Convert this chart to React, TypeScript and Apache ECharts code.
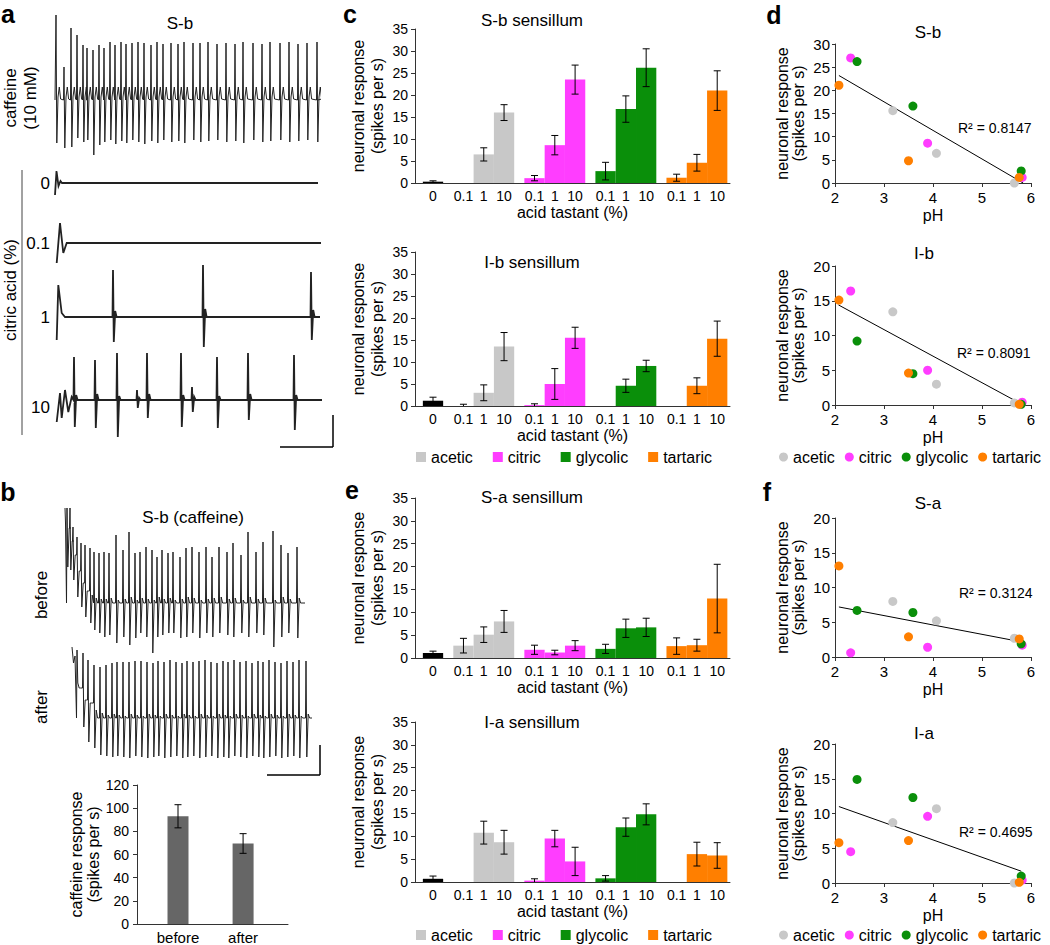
import React, { useEffect, useRef } from 'react';
import * as echarts from 'echarts';

const FONT = '"Liberation Sans", Arial, Helvetica, sans-serif';

// ---------- categories ----------
const acids = ['acetic', 'citric', 'glycolic', 'tartaric'];
const acidColors = ['#c8c8c8', '#ff3dff', '#0a8f0a', '#ff7f00'];
const zeroColor = '#000000';
// bar slot positions on the x scale (0 = water, then 0.1 / 1 / 10 % per acid)
const zeroPos = 0;
const acidPos = [[1.5, 2.5, 3.5], [5, 6, 7], [8.5, 9.5, 10.5], [12, 13, 14]];
const tickPositions = [0, 1.5, 2.5, 3.5, 5, 6, 7, 8.5, 9.5, 10.5, 12, 13, 14];
const tickLabels = ['0', '0.1', '1', '10', '0.1', '1', '10', '0.1', '1', '10', '0.1', '1', '10'];

// ---------- panel c / e bar values (mean, sem) ----------
const sbZero = [0.3, 0.2];
const sbMeans = [[0, 6.5, 16], [1.1, 8.6, 23.5], [2.7, 16.8, 26.2], [1.2, 4.6, 21]];
const sbErrs = [[0, 1.5, 1.8], [0.6, 2.2, 3.3], [2, 3, 4.3], [0.8, 1.9, 4.5]];

const ibZero = [1.2, 0.8];
const ibMeans = [[0, 3, 13.5], [0.2, 5, 15.5], [0, 4.6, 9.1], [0, 4.6, 15.3]];
const ibErrs = [[0.4, 1.8, 3.2], [0.3, 3.5, 2.4], [0, 1.5, 1.3], [0, 1.8, 4]];

const saZero = [1.1, 0.4];
const saMeans = [[2.7, 5.1, 8], [1.8, 1.2, 2.7], [2, 6.5, 6.7], [2.6, 2.8, 13]];
const saErrs = [[1.6, 1.7, 2.4], [1, 0.5, 1.1], [1, 2, 2], [1.8, 1.3, 7.5]];

const iaZero = [0.7, 0.6];
const iaMeans = [[0, 10.8, 8.7], [0.3, 9.5, 4.5], [0.8, 12, 14.8], [0, 6.1, 5.8]];
const iaErrs = [[0, 2.5, 2.6], [0.4, 1.8, 3.1], [0.6, 2, 2.3], [0, 2.6, 2.8]];

// ---------- panel b bar values ----------
const caffeineCats = ['before', 'after'];
const caffeineMeans = [93, 69.5];
const caffeineErrs = [10, 8.5];

// ---------- panel d / f scatter values (0.1 %, 1 %, 10 %) ----------
const phValues = [[5.66, 4.07, 3.18], [5.82, 3.89, 2.32], [5.8, 3.59, 2.45], [5.76, 3.5, 2.08]];
const sbResp = [[0, 6.4, 15.6], [1.2, 8.6, 27], [2.6, 16.6, 26.2], [1.2, 4.8, 21.1]];
const ibResp = [[0.3, 3.0, 13.4], [0.4, 5.0, 16.4], [0.1, 4.5, 9.2], [0.1, 4.6, 15.1]];
const saResp = [[2.7, 5.2, 8.0], [1.7, 1.4, 0.6], [1.9, 6.4, 6.7], [2.6, 2.9, 13.1]];
const iaResp = [[0, 10.7, 8.7], [0.4, 9.6, 4.5], [1.0, 12.3, 14.9], [0.1, 6.1, 5.8]];
const sbTrend = [[2.08, 23.2], [5.84, 0]];
const ibTrend = [[2.07, 14.4], [5.84, 0]];
const saTrend = [[2.08, 7.2], [5.86, 2.1]];
const iaTrend = [[2.08, 11.0], [5.8, 1.7]];
const rSquared = ['R² = 0.8147', 'R² = 0.8091', 'R² = 0.3124', 'R² = 0.4695'];

// ---------- recording traces (positions in px along the trace, amplitudes in px) ----------
const caffeinePos = [1, 9, 16, 22, 28, 32, 38, 44, 49, 55, 60, 66, 71, 77, 83, 89, 96, 102, 108, 116, 123, 129, 138, 145, 153, 162, 171, 180, 188, 198, 207, 215, 225, 234, 243, 252, 262];
const caffeineUp = [85, 33, 72, 65, 55, 52, 50, 55, 52, 58, 55, 58, 56, 57, 58, 57, 55, 58, 56, 57, 56, 58, 57, 57, 58, 56, 57, 56, 58, 57, 56, 58, 57, 58, 56, 57, 58];
const caffeineDown = [-43, -48, -47, -38, -42, -40, -55, -45, -42, -40, -44, -41, -43, -40, -42, -44, -41, -43, -40, -42, -41, -43, -40, -42, -41, -40, -42, -41, -43, -40, -42, -41, -40, -42, -41, -40, -42];

const zeroStart = [[0, -12], [1.5, 12], [3.5, -3], [5.5, 2], [7, 0]];
const pointOneStart = [[1.7, -20], [5, 20], [8.3, -10], [11.7, 0]];
const oneStart = [[1.7, -23], [3.3, 32], [6.7, 4], [10, 0]];
const onePos = [58, 148, 256];
const oneUp = [47, 52, 45];
const oneDown = [-25, -30, -23];
const oneBase = [6, 8, 7];
const tenStart = [[1.7, -22], [5, 7], [6.7, -18], [10, 10], [13.3, -12], [16.7, 3]];
const tenPos = [19, 40, 62, 82, 92, 126, 137, 162, 193, 239];
const tenUp = [43, 40, 47, 10, 47, 47, 13, 43, 47, 45];
const tenDown = [-27, -28, -37, -8, -18, -27, -12, -28, -20, -30];
const tenBase = [5, 6, 4, 2, 6, 5, 3, 4, 6, 5];

const beforeStart = [[0, 95], [0.5, 80]];
const beforePos = [2, 5, 8, 12, 16, 20, 25, 29, 34, 39, 44, 51, 58, 64, 70, 75, 81, 87, 92, 97, 103, 108, 115, 121, 127, 134, 141, 147, 154, 162, 168, 176, 183, 191, 198, 208, 216, 223, 232];
const beforeUp = [95, 95, 76, 66, 60, 58, 55, 51, 50, 51, 50, 68, 53, 71, 50, 51, 56, 53, 46, 53, 50, 51, 46, 55, 56, 51, 56, 46, 56, 51, 60, 48, 71, 51, 61, 72, 58, 50, 56];
const beforeDown = [36, 33, 23, 6, -4, -14, -20, -27, -30, -34, -32, -40, -34, -42, -35, -30, -34, -50, -34, -32, -30, -30, -35, -34, -30, -35, -30, -34, -30, -32, -34, -30, -34, -30, -32, -44, -34, -30, -35];
const beforeBase = [75, 62, 48, 32, 20, 12, 8, 5, 4, 4, 5, 3, 4, 6, 3, 5, 4, 3, 6, 4, 5, 3, 4, 6, 5, 3, 4, 5, 6, 4, 5, 3, 6, 4, 5, 3, 6, 4, 5];

const afterStart = [[0, 71], [1.5, 55], [3, 62]];
const afterPos = [5, 11, 16, 22, 28, 34, 40, 45, 51, 57, 63, 69, 75, 81, 86, 92, 98, 104, 110, 115, 121, 127, 133, 139, 145, 151, 156, 162, 168, 174, 180, 186, 191, 197, 203, 209, 215, 221, 227, 234];
const afterUp = [68, 65, 58, 53, 51, 53, 55, 56, 56, 56, 57, 57, 56, 55, 57, 56, 58, 56, 55, 57, 56, 57, 58, 56, 55, 57, 56, 58, 56, 57, 55, 57, 56, 58, 56, 55, 57, 56, 58, 57];
const afterDown = [35, -9, -24, -30, -37, -38, -39, -38, -39, -40, -38, -39, -40, -39, -38, -40, -39, -38, -40, -39, -38, -40, -39, -38, -40, -39, -40, -38, -39, -40, -38, -39, -40, -39, -38, -40, -39, -38, -40, -39];
const afterBase = [30, 18, 15, 8, 5, 3, 4, 3, 2, 4, 3, 2, 4, 3, 2, 4, 3, 2, 4, 3, 2, 4, 3, 2, 4, 3, 2, 4, 3, 2, 4, 3, 2, 4, 3, 2, 4, 3, 2, 4];

// ---------- helpers ----------
function spikeTrain(start: number[][], pos: number[], up: number[], down: number[], base: number[], end: number) {
  const pts: number[][] = start.map((p) => [p[0], p[1]]);
  let level = 0;
  pos.forEach((t, i) => {
    const next = base[i] > 10 ? base[i] : 0;
    pts.push([t - 0.5, level], [t, up[i]], [t + 0.8, down[i]], [t + 2.2, base[i]], [t + 3.6, next]);
    level = next;
  });
  pts.push([end, 0]);
  return pts;
}

function caffeineTrain(pos: number[], up: number[], down: number[], end: number) {
  const pts: number[][] = [[0, 0]];
  pos.forEach((t, i) => {
    pts.push([t - 0.5, 0], [t, up[i]], [t + 0.8, down[i]], [t + 2.0, 3], [t + 3.3, 13], [t + 4.6, 1]);
  });
  pts.push([end, 0]);
  return pts;
}

const makeBarRender = (half: number, drawBar: boolean) => (params: any, api: any) => {
  const x = api.value(0) as number;
  const v = api.value(1) as number;
  const e = api.value(2) as number;
  const color = api.visual('color');
  const children: any[] = [];
  if (drawBar && v > 0) {
    const p1 = api.coord([x - half, v]);
    const p2 = api.coord([x + half, 0]);
    children.push({
      type: 'rect',
      shape: { x: p1[0], y: p1[1], width: p2[0] - p1[0], height: p2[1] - p1[1] },
      style: { fill: color },
    });
  }
  if (e > 0) {
    const top = api.coord([x, v + e]);
    const bot = api.coord([x, Math.max(0, v - e)]);
    const st = { stroke: '#000', lineWidth: 1 };
    children.push({ type: 'line', shape: { x1: top[0], y1: top[1], x2: bot[0], y2: bot[1] }, style: st });
    children.push({ type: 'line', shape: { x1: top[0] - 3.5, y1: top[1], x2: top[0] + 3.5, y2: top[1] }, style: st });
    if (v - e > 0) {
      children.push({ type: 'line', shape: { x1: bot[0] - 3.5, y1: bot[1], x2: bot[0] + 3.5, y2: bot[1] }, style: st });
    }
  }
  return { type: 'group', children };
};

const axisLineStyle = { onZero: false, lineStyle: { color: '#333', width: 1 } };
const labelStyle = { color: '#000', fontSize: 14, fontFamily: FONT };

function txt(text: string, x: number, y: number, size: number, opts: any = {}) {
  return {
    type: 'text',
    x,
    y,
    rotation: opts.rotation || 0,
    silent: true,
    style: {
      text,
      fill: '#000',
      fontSize: size,
      fontFamily: FONT,
      fontWeight: opts.bold ? 'bold' : 'normal',
      align: opts.align || 'center',
      verticalAlign: 'middle',
    },
  };
}

function ln(x1: number, y1: number, x2: number, y2: number, w = 1, color = '#000') {
  return { type: 'line', silent: true, shape: { x1, y1, x2, y2 }, style: { stroke: color, lineWidth: w } };
}

function buildOption() {
  const grid: any[] = [];
  const xAxis: any[] = [];
  const yAxis: any[] = [];
  const series: any[] = [];

  // ----- bar panels c / e -----
  const barPanels = [
    { top: 29, height: 154, zero: sbZero, means: sbMeans, errs: sbErrs },
    { top: 252, height: 154, zero: ibZero, means: ibMeans, errs: ibErrs },
    { top: 498, height: 160, zero: saZero, means: saMeans, errs: saErrs },
    { top: 722, height: 160, zero: iaZero, means: iaMeans, errs: iaErrs },
  ];
  barPanels.forEach((p) => {
    const gi = grid.length;
    grid.push({ left: 415, top: p.top, width: 315, height: p.height });
    xAxis.push({
      type: 'value',
      gridIndex: gi,
      min: -0.887,
      max: 14.63,
      splitLine: { show: false },
      axisLine: axisLineStyle,
      axisTick: { show: false },
      axisLabel: {
        ...labelStyle,
        margin: 6,
        customValues: tickPositions,
        formatter: (val: number) => {
          const i = tickPositions.findIndex((t) => Math.abs(t - val) < 1e-6);
          return i >= 0 ? tickLabels[i] : '';
        },
      },
      name: 'acid tastant (%)',
      nameLocation: 'middle',
      nameGap: 21,
      nameTextStyle: { color: '#000', fontSize: 16, fontFamily: FONT },
    });
    yAxis.push({
      type: 'value',
      gridIndex: gi,
      min: 0,
      max: 35,
      interval: 5,
      splitLine: { show: false },
      axisLine: { show: true, ...axisLineStyle },
      axisTick: { show: true, length: 4, lineStyle: { color: '#333' } },
      axisLabel: { ...labelStyle, margin: 7 },
      name: 'neuronal response\n(spikes per s)',
      nameLocation: 'middle',
      nameRotate: 90,
      nameGap: 28,
      nameTextStyle: { color: '#000', fontSize: 16, fontFamily: FONT, lineHeight: 19 },
    });
    series.push({
      type: 'custom',
      name: 'water',
      xAxisIndex: gi,
      yAxisIndex: gi,
      renderItem: makeBarRender(0.5, true),
      itemStyle: { color: zeroColor },
      encode: { x: 0, y: 1 },
      data: [[zeroPos, p.zero[0], p.zero[1]]],
      silent: true,
    });
    acids.forEach((a, ai) => {
      series.push({
        type: 'custom',
        name: a,
        xAxisIndex: gi,
        yAxisIndex: gi,
        renderItem: makeBarRender(0.5, true),
        itemStyle: { color: acidColors[ai] },
        encode: { x: 0, y: 1 },
        data: acidPos[ai].map((x, k) => [x, p.means[ai][k], p.errs[ai][k]]),
        silent: true,
      });
    });
  });

  // ----- panel b bar chart -----
  {
    const gi = grid.length;
    grid.push({ left: 137, top: 785, width: 151, height: 140 });
    xAxis.push({
      type: 'value',
      gridIndex: gi,
      min: -0.63,
      max: 1.69,
      splitLine: { show: false },
      axisLine: axisLineStyle,
      axisTick: { show: false },
      axisLabel: {
        ...labelStyle,
        fontSize: 15,
        margin: 6,
        customValues: [0, 1],
        formatter: (val: number) => caffeineCats[Math.round(val)] || '',
      },
    });
    yAxis.push({
      type: 'value',
      gridIndex: gi,
      min: 0,
      max: 120,
      interval: 20,
      splitLine: { show: false },
      axisLine: { show: true, ...axisLineStyle },
      axisTick: { show: true, length: 4, lineStyle: { color: '#333' } },
      axisLabel: { ...labelStyle, margin: 8 },
      name: 'caffeine response\n(spikes per s)',
      nameLocation: 'middle',
      nameRotate: 90,
      nameGap: 32,
      nameTextStyle: { color: '#000', fontSize: 16, fontFamily: FONT, lineHeight: 17 },
    });
    series.push({
      type: 'bar',
      name: 'caffeine',
      xAxisIndex: gi,
      yAxisIndex: gi,
      barWidth: 21,
      itemStyle: { color: '#666666' },
      data: caffeineMeans.map((m, i) => [i, m]),
      silent: true,
    });
    series.push({
      type: 'custom',
      name: 'caffeine error',
      xAxisIndex: gi,
      yAxisIndex: gi,
      renderItem: makeBarRender(0.16, false),
      itemStyle: { color: '#666666' },
      encode: { x: 0, y: 1 },
      data: caffeineMeans.map((m, i) => [i, m, caffeineErrs[i]]),
      silent: true,
      z: 5,
    });
  }

  // ----- scatter panels d / f -----
  const scatterPanels = [
    { top: 44, max: 30, resp: sbResp, trend: sbTrend },
    { top: 266, max: 20, resp: ibResp, trend: ibTrend },
    { top: 518, max: 20, resp: saResp, trend: saTrend },
    { top: 744, max: 20, resp: iaResp, trend: iaTrend },
  ];
  scatterPanels.forEach((p) => {
    const gi = grid.length;
    grid.push({ left: 835, top: p.top, width: 196, height: 139 });
    xAxis.push({
      type: 'value',
      gridIndex: gi,
      min: 2,
      max: 6,
      interval: 1,
      splitLine: { show: false },
      axisLine: axisLineStyle,
      axisTick: { show: true, length: 4, lineStyle: { color: '#333' } },
      axisLabel: { ...labelStyle, fontSize: 15, margin: 7 },
      name: 'pH',
      nameLocation: 'middle',
      nameGap: 24,
      nameTextStyle: { color: '#000', fontSize: 16, fontFamily: FONT },
    });
    yAxis.push({
      type: 'value',
      gridIndex: gi,
      min: 0,
      max: p.max,
      interval: 5,
      splitLine: { show: false },
      axisLine: { show: true, ...axisLineStyle },
      axisTick: { show: true, length: 3, lineStyle: { color: '#333' } },
      axisLabel: { ...labelStyle, fontSize: 15, margin: 5 },
      name: 'neuronal response\n(spikes per s)',
      nameLocation: 'middle',
      nameRotate: 90,
      nameGap: 29,
      nameTextStyle: { color: '#000', fontSize: 16, fontFamily: FONT, lineHeight: 16 },
    });
    series.push({
      type: 'line',
      name: 'trend',
      xAxisIndex: gi,
      yAxisIndex: gi,
      data: p.trend,
      symbol: 'none',
      lineStyle: { color: '#000', width: 1 },
      silent: true,
      z: 1,
    });
    acids.forEach((a, ai) => {
      series.push({
        type: 'scatter',
        name: a,
        xAxisIndex: gi,
        yAxisIndex: gi,
        symbolSize: 9,
        itemStyle: { color: acidColors[ai], opacity: 1 },
        data: phValues[ai].map((ph, k) => [ph, p.resp[ai][k]]),
        silent: true,
        z: 3,
      });
    });
  });

  // ----- recording traces -----
  const traces = [
    { left: 55, top: 10, width: 265, height: 150, min: -60, max: 90, w: 1, data: caffeineTrain(caffeinePos, caffeineUp, caffeineDown, 263) },
    { left: 55, top: 163, width: 265, height: 40, min: -20, max: 20, w: 1.8, data: spikeTrain(zeroStart, [], [], [], [], 263) },
    { left: 55, top: 218, width: 265, height: 50, min: -25, max: 25, w: 1.8, data: spikeTrain(pointOneStart, [], [], [], [], 266) },
    { left: 55, top: 262, width: 265, height: 90, min: -35, max: 55, w: 1.8, data: spikeTrain(oneStart, onePos, oneUp, oneDown, oneBase, 265) },
    { left: 55, top: 345, width: 268, height: 100, min: -45, max: 55, w: 1.8, data: spikeTrain(tenStart, tenPos, tenUp, tenDown, tenBase, 267) },
    { left: 65, top: 500, width: 242, height: 145, min: -42, max: 103, w: 1, data: spikeTrain(beforeStart, beforePos, beforeUp, beforeDown, beforeBase, 240) },
    { left: 72, top: 640, width: 242, height: 125, min: -47, max: 78, w: 1, data: spikeTrain(afterStart, afterPos, afterUp, afterDown, afterBase, 240) },
  ];
  traces.forEach((t) => {
    const gi = grid.length;
    grid.push({ left: t.left, top: t.top, width: t.width, height: t.height });
    xAxis.push({ type: 'value', gridIndex: gi, min: 0, max: t.width, show: false });
    yAxis.push({ type: 'value', gridIndex: gi, min: t.min, max: t.max, show: false });
    series.push({
      type: 'line',
      name: 'trace',
      xAxisIndex: gi,
      yAxisIndex: gi,
      data: t.data,
      symbol: 'none',
      clip: false,
      lineStyle: { color: '#222', width: t.w, join: 'miter' },
      silent: true,
    });
  });

  const legendBase = {
    data: acids,
    orient: 'horizontal',
    selectedMode: false,
    padding: 0,
    textStyle: { color: '#000', fontSize: 16, fontFamily: FONT },
  };
  const legend = [
    { ...legendBase, left: 416, top: 449, icon: 'rect', itemWidth: 10, itemHeight: 10, itemGap: 20 },
    { ...legendBase, left: 416, top: 927, icon: 'rect', itemWidth: 10, itemHeight: 10, itemGap: 20 },
    { ...legendBase, left: 779, top: 449, icon: 'circle', itemWidth: 9, itemHeight: 9, itemGap: 10 },
    { ...legendBase, left: 779, top: 927, icon: 'circle', itemWidth: 9, itemHeight: 9, itemGap: 10 },
  ];

  const graphic: any[] = [
    // panel letters
    txt('a', 8, 14, 25, { bold: true }),
    txt('b', 8, 492, 25, { bold: true }),
    txt('c', 350, 14, 25, { bold: true }),
    txt('d', 774, 15, 25, { bold: true }),
    txt('e', 352, 490, 25, { bold: true }),
    txt('f', 767, 492, 25, { bold: true }),
    // panel a
    txt('S-b', 180, 23, 17),
    txt('caffeine', 10, 98, 17, { rotation: Math.PI / 2 }),
    txt('(10 mM)', 30, 98, 17, { rotation: Math.PI / 2 }),
    txt('citric acid (%)', 10, 290, 17, { rotation: Math.PI / 2 }),
    txt('0', 50, 183, 17, { align: 'right' }),
    txt('0.1', 50, 243, 17, { align: 'right' }),
    txt('1', 50, 317, 17, { align: 'right' }),
    txt('10', 50, 407, 17, { align: 'right' }),
    ln(22, 170, 22, 435, 1, '#444'),
    ln(333, 415, 333, 447, 1.5),
    ln(280, 447, 333, 447, 1.5),
    // panel b
    txt('S-b (caffeine)', 193, 517, 17),
    txt('before', 41, 595, 17, { rotation: Math.PI / 2 }),
    txt('after', 41, 707, 17, { rotation: Math.PI / 2 }),
    ln(320, 745, 320, 775, 1.5),
    ln(267, 775, 320, 775, 1.5),
    // bar panel titles
    txt('S-b sensillum', 532, 20, 17),
    txt('I-b sensillum', 532, 262, 17),
    txt('S-a sensillum', 532, 497, 17),
    txt('I-a sensillum', 532, 722, 17),
    // scatter titles
    txt('S-b', 928, 32, 17),
    txt('I-b', 924, 253, 17),
    txt('S-a', 928, 503, 17),
    txt('I-a', 924, 733, 17),
    // R² labels
    txt(rSquared[0], 958, 128, 14, { align: 'left' }),
    txt(rSquared[1], 957, 353, 14, { align: 'left' }),
    txt(rSquared[2], 959, 593, 14, { align: 'left' }),
    txt(rSquared[3], 959, 832, 14, { align: 'left' }),
  ];

  return {
    animation: false,
    backgroundColor: '#ffffff',
    textStyle: { fontFamily: FONT },
    grid,
    xAxis,
    yAxis,
    series,
    legend,
    graphic,
  };
}

export default function App() {
  const ref = useRef<HTMLDivElement>(null);
  useEffect(() => {
    if (!ref.current) return;
    const chart = echarts.init(ref.current, undefined, { renderer: 'svg' });
    chart.setOption(buildOption() as any);
    return () => chart.dispose();
  }, []);
  return (
    <div
      ref={ref}
      style={{ position: 'absolute', left: 0, top: 0, width: 1050, height: 945, background: '#fff' }}
    />
  );
}
